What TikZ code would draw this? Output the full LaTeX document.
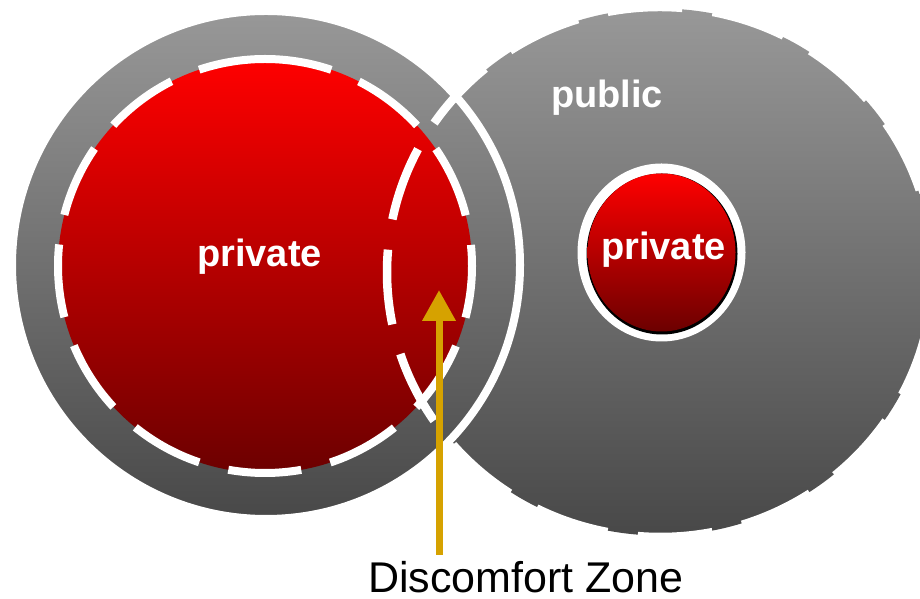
\documentclass[tikz,border=0pt]{standalone}
\usepackage{fontspec}
\setmainfont{Liberation Sans}
\usetikzlibrary{arrows.meta}
\definecolor{greytop}{RGB}{152,152,152}
\definecolor{greybot}{RGB}{72,72,72}
\definecolor{redtop}{RGB}{255,0,0}
\definecolor{redbot}{RGB}{108,0,0}
\definecolor{arrowgold}{RGB}{214,162,0}
\begin{document}
\begin{tikzpicture}[x=1pt,y=1pt,
  greyshade/.style={top color=greytop,bottom color=greybot},
  redshade/.style={top color=redtop,bottom color=redbot},
  reddash/.style={draw=white,line width=8pt,dash pattern=on 73.3pt off 30pt,dash phase=6.3pt},
  pubdash/.style={draw=white,line width=8.5pt,dash pattern=on 75pt off 30.64pt},
  txtwhite/.style={text=white,font=\fontsize{38}{40}\selectfont\bfseries,inner sep=0pt,anchor=base}]
\useasboundingbox (0,0) rectangle (920,599);
\clip (0,0) rectangle (920,599);
\coordinate (pubc) at (660,327);
\coordinate (leftc) at (266,334);
\coordinate (redc) at (265,333);
\coordinate (smallc) at (661.5,346.5);
% public sphere
\path[greyshade] (pubc) ellipse [x radius=271.5pt, y radius=263.5pt];
% left sphere
\path[greyshade, draw=white, line width=8pt] (leftc) circle [radius=254pt];
% big private
\path[redshade] (redc) circle [radius=207pt];
\draw[reddash] (redc) ++(90:207pt) arc [start angle=90, end angle=450, radius=207pt];
% public outline (dashed)
\draw[pubdash] (pubc) ++(175.2:273pt and 265pt) arc [start angle=175.2, end angle=535.2, x radius=273pt, y radius=265pt];
% small private
\fill[white] (smallc) ellipse [x radius=84pt, y radius=89pt];
\fill[black] (smallc) ++(0.5,-1.5) ellipse [x radius=75.5pt, y radius=80.5pt];
\path[redshade] (smallc) ellipse [x radius=74pt, y radius=79pt];
% texts
\node[txtwhite] (privL) at (259.5,332) {private};
\node[txtwhite] (privR) at (663.5,339) {private};
\node[txtwhite] (pub) at (607,491) {public};
\node[inner sep=0pt, anchor=base, font=\fontsize{43}{45}\selectfont] (dz) at (526,6.5) {Discomfort Zone};
% arrow
\coordinate (arrowbase) at (439,44);
\coordinate (arrowtip) at (439,309);
\draw[arrowgold, line width=7pt, -{Triangle[width=32pt,length=31pt]}] (arrowbase) -- (arrowtip);
\end{tikzpicture}
\end{document}
